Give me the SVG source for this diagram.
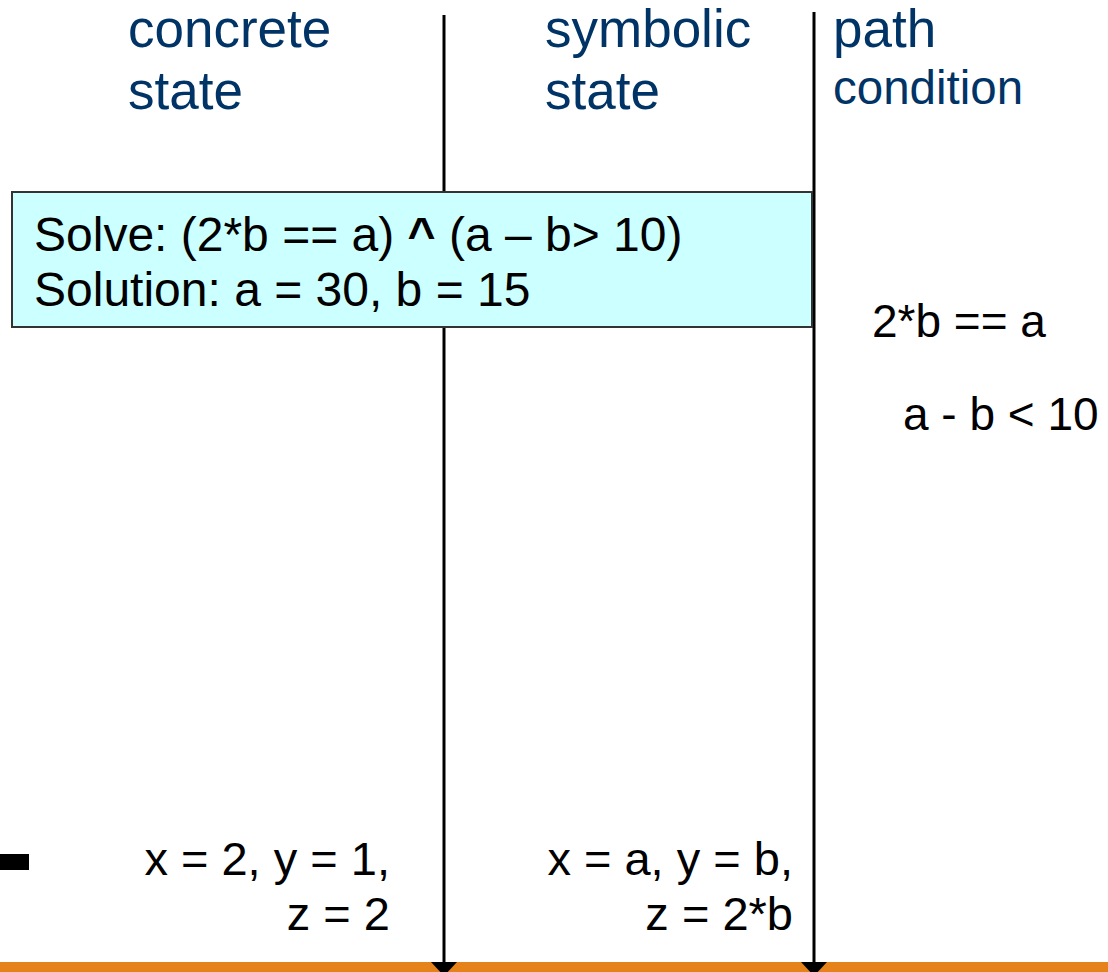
<svg xmlns="http://www.w3.org/2000/svg" width="1108" height="972" viewBox="0 0 1108 972">
<style>
.hd{font-family:"Liberation Sans",Arial,sans-serif;fill:#003366;font-size:53px}
.t{font-family:"Liberation Sans",Arial,sans-serif;fill:#000;font-size:47px}
.bx{font-size:48px}
.pc{font-size:46px}
.ln{stroke:#000;stroke-width:3;fill:none}
</style>
<rect x="0" y="0" width="1108" height="972" fill="#fff"/>
<g id="bar"><rect x="0" y="962" width="1108" height="10" fill="#E5821A"/></g>
<g id="connectors">
<line class="ln" x1="444" y1="15" x2="444" y2="962"/>
<line class="ln" x1="814" y1="12" x2="814" y2="962"/>
<path d="M431,962 L457,962 L444,976 Z" fill="#000"/>
<path d="M801,962 L827,962 L814,976 Z" fill="#000"/>
</g>
<g id="hdr-concrete"><text class="hd" x="128" y="47">concrete</text><text class="hd" x="128" y="109">state</text></g>
<g id="hdr-symbolic"><text class="hd" x="545" y="47">symbolic</text><text class="hd" x="545" y="109">state</text></g>
<g id="hdr-path"><text class="hd" x="833" y="47">path</text><text class="hd" x="833" y="104" style="font-size:47.5px">condition</text></g>
<g id="solve-box">
<rect x="12" y="192" width="800" height="135" fill="#CCFFFF" stroke="#333" stroke-width="2"/>
<text class="t bx" x="34" y="251">Solve: (2*b == a) <tspan font-weight="bold">^</tspan> (a – b&gt; 10)</text>
<text class="t bx" x="34" y="306">Solution: a = 30, b = 15</text>
</g>
<g id="pc1"><text class="t pc" x="872" y="337">2*b == a</text></g>
<g id="pc2"><text class="t pc" x="903" y="430">a - b &lt; 10</text></g>
<g id="bullet"><rect x="0" y="854" width="29" height="16" fill="#000"/></g>
<g id="concrete-vals"><text class="t" x="390" y="875" text-anchor="end">x = 2, y = 1,</text><text class="t" x="390" y="930" text-anchor="end">z = 2</text></g>
<g id="symbolic-vals"><text class="t" x="793" y="875" text-anchor="end">x = a, y = b,</text><text class="t" x="793" y="930" text-anchor="end">z = 2*b</text></g>
</svg>
